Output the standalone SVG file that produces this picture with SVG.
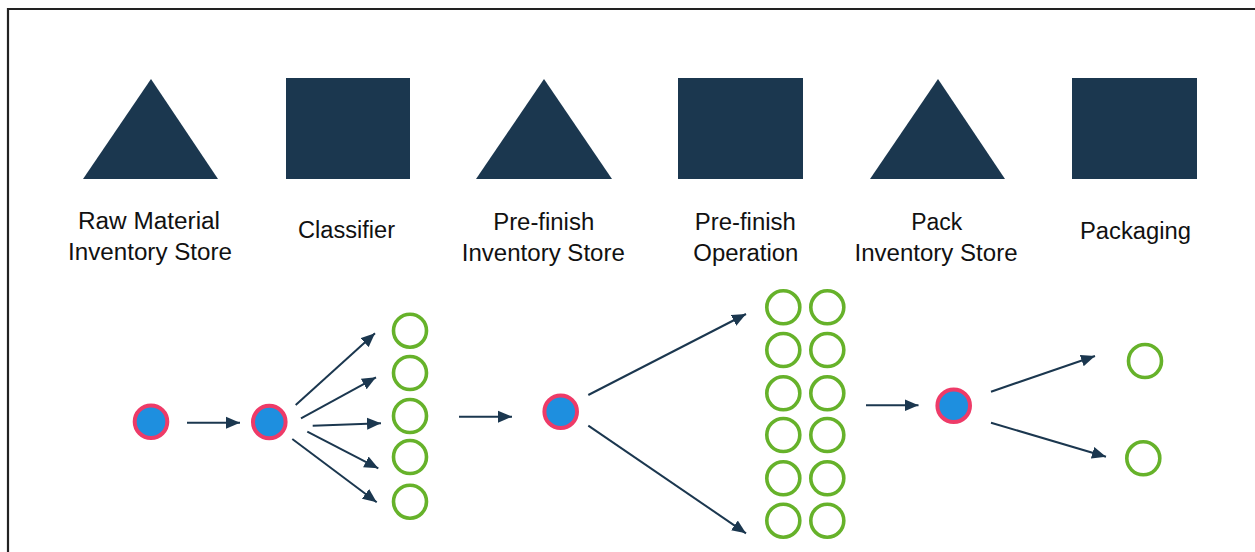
<svg xmlns="http://www.w3.org/2000/svg" width="1255" height="552" viewBox="0 0 1255 552">
<style>
.shape{fill:#1b374f}
.lbl{font-family:"Liberation Sans",Arial,sans-serif;font-size:23.5px;fill:#111;text-anchor:middle}
.src{fill:#1e8fdf;stroke:#ee3b68;stroke-width:4}
.out{fill:#fff;stroke:#66b22a;stroke-width:3.6}
.arr{stroke:#1b374f;stroke-width:2;fill:none;marker-end:url(#ah)}
.frame{stroke:#222;stroke-width:2.2;fill:none}
</style>
<defs>
<marker id="ah" markerUnits="userSpaceOnUse" markerWidth="15" markerHeight="13" refX="14" refY="6.5" orient="auto">
<path d="M0,0.5 L14,6.5 L0,12.5 z" fill="#1b374f"/>
</marker>
</defs>
<rect width="1255" height="552" fill="#fff"/>
<path class="frame" d="M8,560 L8,9 L1260,9"/>

<g id="raw-material-store">
<polygon class="shape" points="151,79 218,179 83,179"/>
<text class="lbl" x="149" y="229" textLength="142" lengthAdjust="spacingAndGlyphs">Raw Material</text>
<text class="lbl" x="150" y="260" textLength="164" lengthAdjust="spacingAndGlyphs">Inventory Store</text>
</g>
<g id="classifier">
<rect class="shape" x="286" y="78" width="124" height="101"/>
<text class="lbl" x="346.5" y="238" textLength="97" lengthAdjust="spacingAndGlyphs">Classifier</text>
</g>
<g id="prefinish-store">
<polygon class="shape" points="544,79 612,179 476,179"/>
<text class="lbl" x="543.7" y="230" textLength="101" lengthAdjust="spacingAndGlyphs">Pre-finish</text>
<text class="lbl" x="543.3" y="261" textLength="163" lengthAdjust="spacingAndGlyphs">Inventory Store</text>
</g>
<g id="prefinish-operation">
<rect class="shape" x="678" y="78" width="125" height="101"/>
<text class="lbl" x="745.3" y="230" textLength="101" lengthAdjust="spacingAndGlyphs">Pre-finish</text>
<text class="lbl" x="745.8" y="261" textLength="105" lengthAdjust="spacingAndGlyphs">Operation</text>
</g>
<g id="pack-store">
<polygon class="shape" points="938,79 1005,179 870,179"/>
<text class="lbl" x="936.7" y="230" textLength="51" lengthAdjust="spacingAndGlyphs">Pack</text>
<text class="lbl" x="936" y="261" textLength="163" lengthAdjust="spacingAndGlyphs">Inventory Store</text>
</g>
<g id="packaging">
<rect class="shape" x="1072" y="78" width="125" height="101"/>
<text class="lbl" x="1135.5" y="239" textLength="111" lengthAdjust="spacingAndGlyphs">Packaging</text>
</g>

<g id="connectors">
<line class="arr" x1="187" y1="422.7" x2="240" y2="422.7"/>
<line class="arr" x1="295.7" y1="405" x2="375" y2="333.3"/>
<line class="arr" x1="301" y1="418.3" x2="376" y2="377.3"/>
<line class="arr" x1="312.7" y1="425.7" x2="381" y2="423.3"/>
<line class="arr" x1="307.3" y1="431.7" x2="378.3" y2="468.3"/>
<line class="arr" x1="292.3" y1="439" x2="376.7" y2="502.3"/>
<line class="arr" x1="459" y1="416.7" x2="512" y2="416.7"/>
<line class="arr" x1="588.3" y1="395" x2="746" y2="314"/>
<line class="arr" x1="588.3" y1="425.7" x2="746" y2="533.3"/>
<line class="arr" x1="866" y1="405.3" x2="918.5" y2="405.3"/>
<line class="arr" x1="991" y1="391.7" x2="1095" y2="356"/>
<line class="arr" x1="991" y1="422.7" x2="1106" y2="456.7"/>
</g>

<g id="raw-item">
<circle class="src" cx="151" cy="421.7" r="16.3"/>
</g>
<g id="classified-item">
<circle class="src" cx="269.3" cy="422" r="16.3"/>
</g>
<g id="classifier-outputs">
<circle class="out" cx="410" cy="330.7" r="16.5"/>
<circle class="out" cx="410" cy="373" r="16.5"/>
<circle class="out" cx="410" cy="416" r="16.5"/>
<circle class="out" cx="410" cy="457" r="16.5"/>
<circle class="out" cx="410" cy="501.7" r="16.5"/>
</g>
<g id="prefinish-item">
<circle class="src" cx="560.7" cy="411.7" r="16.3"/>
</g>
<g id="prefinish-outputs">
<circle class="out" cx="783.3" cy="307.3" r="16.5"/>
<circle class="out" cx="783.3" cy="350" r="16.5"/>
<circle class="out" cx="783.3" cy="393.3" r="16.5"/>
<circle class="out" cx="783.3" cy="435" r="16.5"/>
<circle class="out" cx="783.3" cy="478.3" r="16.5"/>
<circle class="out" cx="783.3" cy="520.7" r="16.5"/>
<circle class="out" cx="827.3" cy="307.3" r="16.5"/>
<circle class="out" cx="827.3" cy="350" r="16.5"/>
<circle class="out" cx="827.3" cy="393.3" r="16.5"/>
<circle class="out" cx="827.3" cy="435" r="16.5"/>
<circle class="out" cx="827.3" cy="478.3" r="16.5"/>
<circle class="out" cx="827.3" cy="520.7" r="16.5"/>
</g>
<g id="pack-item">
<circle class="src" cx="953.7" cy="405.7" r="16.3"/>
</g>
<g id="packaging-outputs">
<circle class="out" cx="1145" cy="361" r="16.5"/>
<circle class="out" cx="1143.3" cy="458.3" r="16.5"/>
</g>
</svg>
